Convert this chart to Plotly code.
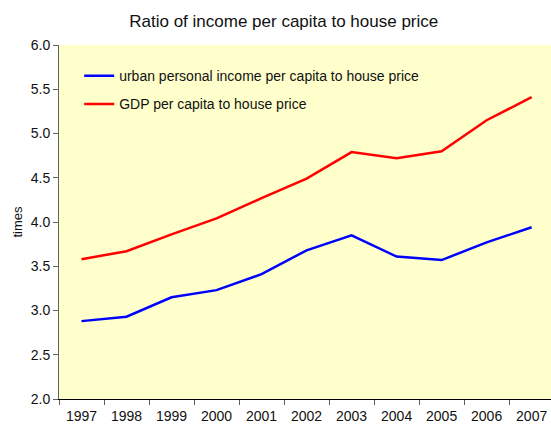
import plotly.graph_objects as go

years = ["1997", "1998", "1999", "2000", "2001", "2002", "2003", "2004", "2005", "2006", "2007"]
urban = [2.88, 2.93, 3.15, 3.23, 3.41, 3.68, 3.85, 3.61, 3.57, 3.77, 3.94]
gdp = [3.58, 3.67, 3.86, 4.04, 4.27, 4.49, 4.79, 4.72, 4.80, 5.15, 5.41]
y_ticks = [2.0, 2.5, 3.0, 3.5, 4.0, 4.5, 5.0, 5.5, 6.0]

font = "Liberation Sans, Arial, sans-serif"

fig = go.Figure()
fig.add_trace(go.Scatter(x=years, y=urban, mode="lines",
                         name="urban personal income per capita to house price",
                         line=dict(color="#0000FF", width=2.5), legendgroup="a"))
fig.add_trace(go.Scatter(x=years, y=gdp, mode="lines",
                         name="GDP per capita to house price",
                         line=dict(color="#FF0000", width=2.5), legendgroup="b"))

fig.update_layout(
    width=551, height=426,
    margin=dict(l=59, r=0, t=45, b=27, autoexpand=False),
    paper_bgcolor="white", plot_bgcolor="#FFFFCC",
    font=dict(family=font, size=14, color="#111111"),
    title=dict(text="Ratio of income per capita to house price", x=0.515, xanchor="center",
               y=0.951, yanchor="middle", font=dict(size=17, family=font, color="#111111")),
    showlegend=True,
    legend=dict(x=0.041, y=0.957, xanchor="left", yanchor="top", bgcolor="rgba(0,0,0,0)",
                traceorder="grouped", tracegroupgap=7, font=dict(size=14, family=font)),
    xaxis=dict(type="category", range=[-0.5, 10.43], showline=True, linecolor="black",
               linewidth=1, ticks="outside", tickson="boundaries", ticklen=5,
               tickcolor="#606060", showgrid=False, zeroline=False, automargin=False,
               ticklabelstandoff=4),
    yaxis=dict(range=[2.0, 6.0], tickvals=y_ticks, tickformat=".1f", showline=True,
               linecolor="#606060", linewidth=1, ticks="outside", ticklen=5, tickcolor="#606060",
               showgrid=False, zeroline=False, automargin=False,
               title=dict(text="times", font=dict(size=13), standoff=5)),
)

fig.write_html("out.html", config={"displayModeBar": False},
               post_script="document.body.style.margin='0';document.body.style.overflow='hidden';")
